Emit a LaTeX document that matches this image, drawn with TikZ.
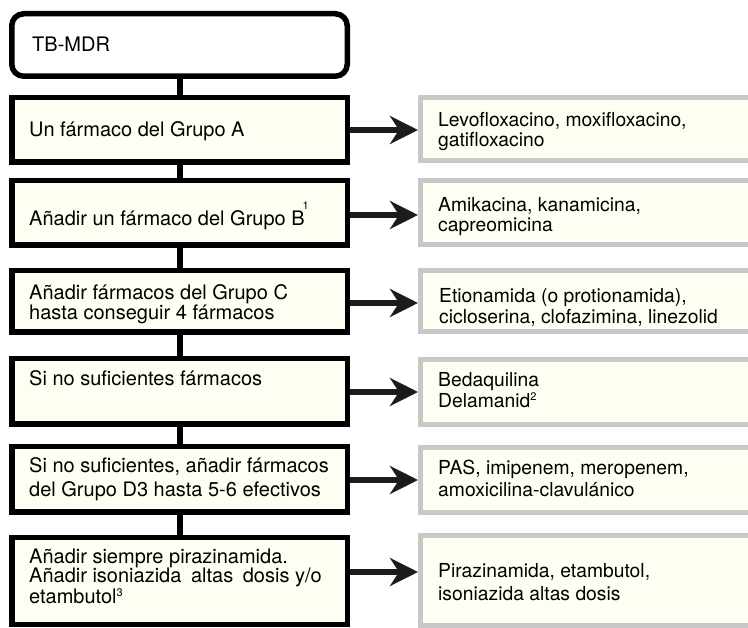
\documentclass[tikz,border=0pt]{standalone}
\usepackage{fontspec}
\setmainfont{TeX Gyre Heros}
\usetikzlibrary{arrows.meta}
\definecolor{ivory}{RGB}{255,254,242}
\definecolor{gborder}{RGB}{200,200,200}
\definecolor{arrk}{RGB}{28,28,28}
\newcommand{\supr}[1]{\raisebox{7pt}{\fontsize{11}{11}\selectfont #1}}
\newcommand{\stk}[2]{\vtop{\baselineskip=#1\relax #2}}
\begin{document}
\begin{tikzpicture}[x=1pt,y=-1pt,
  bbox/.style={draw=black, line width=5.5pt, fill=ivory, minimum width=335.5pt, inner sep=0pt},
  gbox/.style={draw=gborder, line width=5pt, fill=ivory, minimum width=337pt, inner sep=0pt},
  txt/.style={anchor=base west, inner sep=0pt, font=\fontsize{20}{20}\selectfont},
  rtxt/.style={anchor=base west, inner sep=0pt, font=\fontsize{19.3}{20}\selectfont},
  conn/.style={line width=6pt, draw=black},
  arr/.style={line width=6pt, draw=arrk, -{Stealth[length=28pt,width=28pt,inset=9pt]}}]
\useasboundingbox (0,0) rectangle (748,628);
\clip (0,0) rectangle (748,628);
\fill[white] (0,0) rectangle (748,628);
% grey boxes
\node[gbox, minimum height=63pt] (ga) at (589,129) {};
\node[gbox, minimum height=64pt] (gb) at (589,212.5) {};
\node[gbox, minimum height=61pt] (gc) at (589,301) {};
\node[gbox, minimum height=65pt] (gd) at (589,392) {};
\node[gbox, minimum height=65pt] (ge) at (589,480) {};
\node[gbox, minimum height=90pt] (gf) at (589,580.5) {};
% black boxes
\node[bbox, fill=white, rounded corners=12pt, minimum height=62.5pt] (t0) at (179.5,45) {};
\node[bbox, minimum height=64.5pt] (b1) at (179.5,130) {};
\node[bbox, minimum height=64.5pt] (b2) at (179.5,213) {};
\node[bbox, minimum height=61.5pt] (b3) at (179.5,301.5) {};
\node[bbox, minimum height=65.5pt] (b4) at (179.5,391.5) {};
\node[bbox, minimum height=65.5pt] (b5) at (179.5,479.5) {};
\node[bbox, minimum height=86.5pt] (b6) at (179.5,581) {};
% vertical connectors
\draw[conn] (t0.south) -- (b1.north);
\draw[conn] (b1.south) -- (b2.north);
\draw[conn] (b2.south) -- (b3.north);
\draw[conn] (b3.south) -- (b4.north);
\draw[conn] (b4.south) -- (b5.north);
\draw[conn] (b5.south) -- (b6.north);
% arrows
\draw[arr] (b1.east |- 0,130) -- (ga.west |- 0,130);
\draw[arr] (b2.east |- 0,215) -- (gb.west |- 0,215);
\draw[arr] (b3.east |- 0,303) -- (gc.west |- 0,303);
\draw[arr] (b4.east |- 0,392) -- (gd.west |- 0,392);
\draw[arr] (b5.east |- 0,480) -- (ge.west |- 0,480);
\draw[arr] (b6.east |- 0,572) -- (gf.west |- 0,572);
% texts left
\node[txt] (l0) at (32,52) {TB-MDR};
\node[txt] (l1) at (29,137) {Un fármaco del Grupo A};
\node[txt] (l2) at (29,226) {Añadir un fármaco del Grupo B\kern-2pt\raisebox{16pt}{\fontsize{11}{11}\selectfont 1}};
\node[txt] (l3) at (29,300) {\stk{20pt}{\hbox{Añadir fármacos del Grupo C}\hbox{hasta conseguir 4 fármacos}}};
\node[txt] (l4) at (29,386) {Si no suficientes fármacos};
\node[txt] (l5) at (29,473) {\stk{24pt}{\hbox{Si no suficientes, añadir fármacos}\hbox{del Grupo D3 hasta 5-6 efectivos}}};
\node[txt] (l6) at (29,564) {\stk{19pt}{\hbox{Añadir siempre pirazinamida.}\hbox{Añadir isoniazida\hspace{4pt} altas\hspace{4pt} dosis y/o}\hbox{etambutol\supr{3}}}};
% texts right
\node[rtxt] (r1) at (438,127) {\stk{20pt}{\hbox{Levofloxacino, moxifloxacino,}\hbox{gatifloxacino}}};
\node[rtxt] (r2) at (438,212) {\stk{20pt}{\hbox{Amikacina, kanamicina,}\hbox{capreomicina}}};
\node[rtxt] (r3) at (439,303) {\stk{21pt}{\hbox{Etionamida (o protionamida),}\hbox{cicloserina, clofazimina, linezolid}}};
\node[rtxt] (r4) at (438,387) {\stk{21pt}{\hbox{Bedaquilina}\hbox{Delamanid\supr{2}}}};
\node[rtxt] (r5) at (438,475) {\stk{22pt}{\hbox{PAS, imipenem, meropenem,}\hbox{amoxicilina-clavulánico}}};
\node[rtxt] (r6) at (438,578) {\stk{23pt}{\hbox{Pirazinamida, etambutol,}\hbox{isoniazida altas dosis}}};
\end{tikzpicture}
\end{document}
